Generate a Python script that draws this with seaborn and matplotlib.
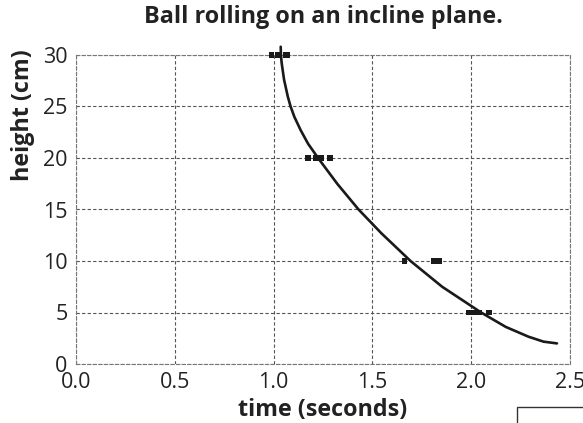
import seaborn as sns
import pandas as pd
from matplotlib import pyplot as plt
from matplotlib.patches import Rectangle

# measured times at each release height
heights = [30, 30, 30, 30, 20, 20, 20, 20, 10, 10, 10, 5, 5, 5, 5]
times = [0.99, 1.02, 1.06, 1.07, 1.175, 1.215, 1.24, 1.286, 1.663, 1.81, 1.838, 1.99, 2.01, 2.04, 2.09]

# fitted curve
curve_h = [30.8, 30.0, 29.2, 27.6, 25.95, 25.0, 24.0, 22.7, 21.4, 20.0, 17.5, 15.0,
           12.7, 10.0, 7.5, 5.0, 3.6, 2.65, 2.17, 2.0]
curve_t = [1.036, 1.037, 1.041, 1.053, 1.072, 1.086, 1.105, 1.137, 1.174, 1.225, 1.322, 1.43,
           1.545, 1.693, 1.853, 2.05, 2.175, 2.29, 2.366, 2.434]

xticks = [0.0, 0.5, 1.0, 1.5, 2.0, 2.5]
yticks = [0, 5, 10, 15, 20, 25, 30]

sns.set_style('white')
plt.rcParams['font.family'] = ['Open Sans', 'DejaVu Sans']

W, H = 583, 423
fig = plt.figure(figsize=(W / 100, H / 100), dpi=100)
ax = fig.add_axes([76 / W, (H - 364) / H, (570 - 76) / W, (364 - 55) / H])

pts = pd.DataFrame({'time': times, 'height': heights})
crv = pd.DataFrame({'time': curve_t, 'height': curve_h})

sns.lineplot(crv, x='time', y='height', sort=False, estimator=None, color='#1a1a1a',
             linewidth=1.9, ax=ax, clip_on=False, zorder=4, solid_joinstyle='round')
sns.scatterplot(pts, x='time', y='height', marker='s', s=16, color='#1a1a1a',
                edgecolor='none', ax=ax, zorder=5, clip_on=False)

ax.set_xlim(0, 2.5)
ax.set_ylim(0, 30)
ax.set_xticks(xticks, [f'{v:.1f}' for v in xticks])
ax.set_yticks(yticks, [str(v) for v in yticks])
ax.tick_params(axis='both', length=0, labelsize=15.5, colors='#222222')
ax.tick_params(axis='x', pad=6)
ax.tick_params(axis='y', pad=6)
ax.grid(True, linestyle=(0, (3, 2)), color='#555555', linewidth=0.8)
for s in ax.spines.values():
    s.set_linestyle((0, (3, 2)))
    s.set_color('#777777')
    s.set_linewidth(0.8)

ax.set_xlabel('')
ax.set_ylabel('')
fig.text(323 / W, 1 - 17 / H, 'Ball rolling on an incline plane.', ha='center', va='center',
         fontsize=16.8, fontweight='bold', color='#222222')
fig.text(323 / W, 1 - 410 / H, 'time (seconds)', ha='center', va='center',
         fontsize=16.8, fontweight='bold', color='#222222')
fig.text(23 / W, 1 - 115 / H, 'height (cm)', ha='center', va='center', rotation=90,
         fontsize=16.8, fontweight='bold', color='#222222')

# fragment of a box at the lower right corner
fig.patches.append(Rectangle((517 / W, -0.1), 0.3, 0.1 + (H - 407) / H, transform=fig.transFigure,
                             fill=False, edgecolor='#333333', linewidth=1))

fig.savefig('out.png', dpi=100)
